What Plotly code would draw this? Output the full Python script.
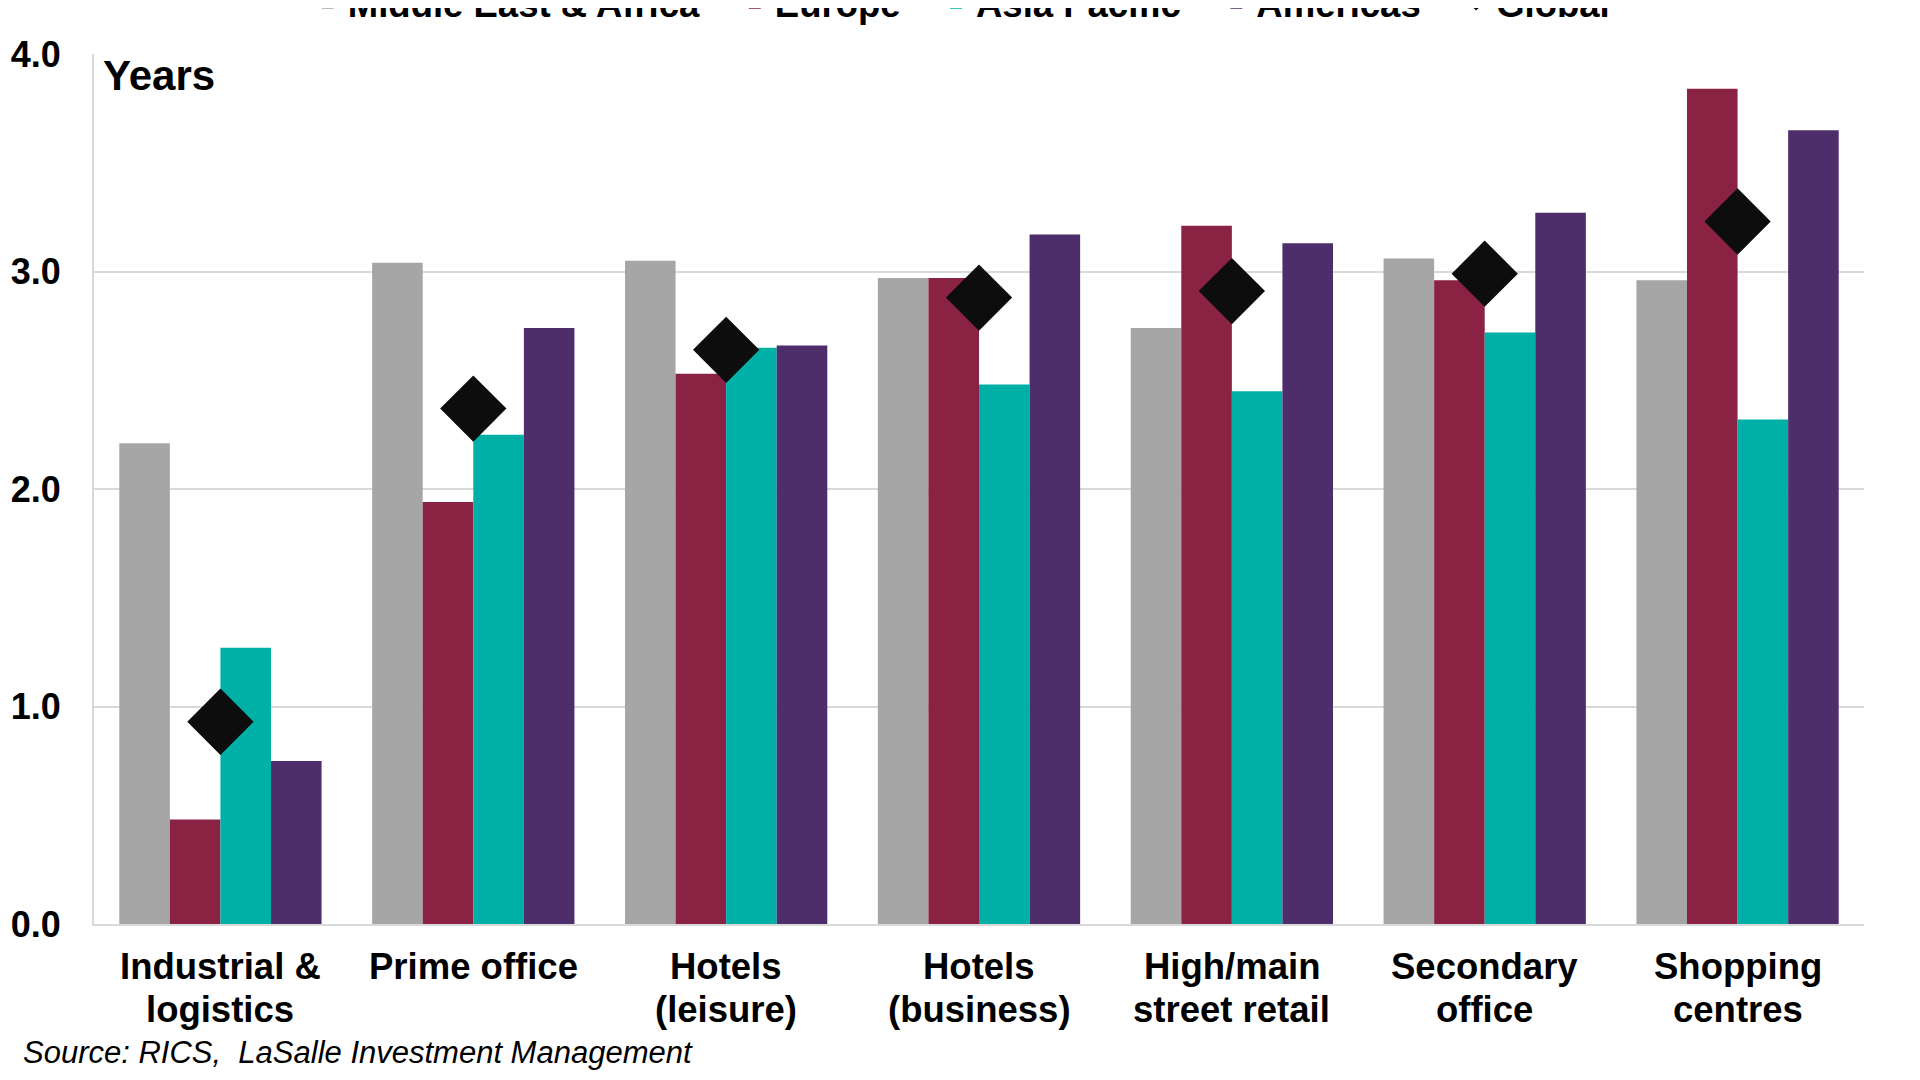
import plotly.graph_objects as go

categories = ["Industrial &<br>logistics", "Prime office", "Hotels<br>(leisure)",
              "Hotels<br>(business)", "High/main<br>street retail", "Secondary<br>office",
              "Shopping<br>centres"]
mea = [2.21, 3.04, 3.05, 2.97, 2.74, 3.06, 2.96]
europe = [0.48, 1.94, 2.53, 2.97, 3.21, 2.96, 3.84]
asia_pacific = [1.27, 2.25, 2.65, 2.48, 2.45, 2.72, 2.32]
americas = [0.75, 2.74, 2.66, 3.17, 3.13, 3.27, 3.65]
global_vals = [0.93, 2.37, 2.64, 2.88, 2.91, 2.99, 3.23]
y_ticks = [0, 1, 2, 3, 4]

FONT = "Liberation Sans, Arial, sans-serif"
W, H = 1904, 1064
L, R, T, B = 86, 48, 46, 147.5
PH = H - T - B
PW = W - L - R

fig = go.Figure()
series = [("Middle East & Africa", mea, "#a6a6a6"),
          ("Europe", europe, "#8a2244"),
          ("Asia Pacific", asia_pacific, "#00b0a6"),
          ("Americas", americas, "#4e2d6b")]
PAD = "&nbsp;&nbsp;&nbsp;"
for name, vals, col in series:
    fig.add_trace(go.Bar(x=categories, y=vals, name="<b>" + name + "</b>" + PAD,
                         marker_color=col, marker_line_width=0))
fig.add_trace(go.Scatter(x=categories, y=global_vals, name="<b>Global</b>", mode="markers",
                         marker=dict(symbol="diamond", size=51, color="#0d0d0d")))

fig.update_layout(
    width=W, height=H,
    paper_bgcolor="white", plot_bgcolor="white",
    barmode="group", bargap=0.2, bargroupgap=0,
    margin=dict(l=L, r=R, t=T, b=B, autoexpand=False),
    font=dict(family=FONT, color="#000000"),
    legend=dict(orientation="h", x=0.49, xanchor="center", y=1 + (T + 5) / PH,
                yanchor="middle",
                font=dict(size=36.5, family=FONT, color="#000"), itemsizing="constant",
                traceorder="normal", bgcolor="rgba(0,0,0,0)"),
    showlegend=True,
)
fig.update_xaxes(showline=True, linecolor="#d9d9d9", linewidth=2, ticks="",
                 showticklabels=False, showgrid=False)
fig.update_yaxes(range=[0, 4.0], tickmode="array", tickvals=y_ticks,
                 ticktext=["<b>%.1f</b>" % v for v in y_ticks],
                 showgrid=True, gridcolor="#d9d9d9", gridwidth=2,
                 showline=True, linecolor="#d9d9d9", linewidth=2,
                 zeroline=False, ticks="", ticklabelstandoff=24,
                 tickfont=dict(size=36, family=FONT, color="#000"))

# category labels, one line per annotation to match the tighter line spacing
line_y = [-(959 - (T + PH)) / PH, -(1002 - (T + PH)) / PH]
for c in categories:
    for i, part in enumerate(c.split("<br>")):
        fig.add_annotation(text="<b>" + part + "</b>", x=c, xref="x", yref="paper",
                           y=line_y[i], xanchor="center", yanchor="middle",
                           showarrow=False,
                           font=dict(size=36.5, family=FONT, color="#000"))

fig.add_annotation(text="<b>Years</b>", xref="paper", yref="paper",
                   x=(93.6 - L - 1) / PW, y=1 - (68 - T) / PH,
                   xanchor="left", yanchor="middle", showarrow=False,
                   font=dict(size=42, family=FONT, color="#000"))
fig.add_annotation(text="<i>Source: RICS,  LaSalle Investment Management</i>",
                   xref="paper", yref="paper", x=(12.8 - L) / PW,
                   y=-(1045 - (T + PH)) / PH,
                   xanchor="left", yanchor="middle", showarrow=False,
                   font=dict(size=31, family=FONT, color="#000"))

fig.write_html("out.html")
